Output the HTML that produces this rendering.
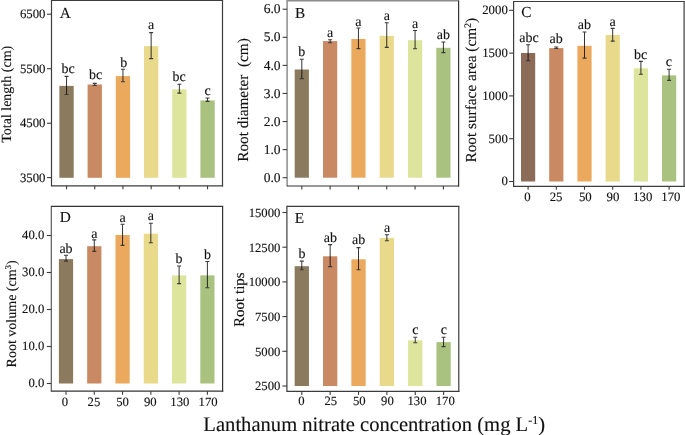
<!DOCTYPE html>
<html><head><meta charset="utf-8"><style>
html,body{margin:0;padding:0;background:#fff;width:685px;height:435px;overflow:hidden}
svg{display:block;will-change:transform}
text{font-family:"Liberation Serif",serif;text-rendering:geometricPrecision;fill:#111;stroke:#111;stroke-width:0.12px}
</style></head><body>
<svg width="685" height="435" viewBox="0 0 685 435">
<rect width="685" height="435" fill="#fff"/>
<rect x="59.4" y="85.9" width="14.3" height="91.9" fill="#8b7a5e"/>
<rect x="87.6" y="84.5" width="14.3" height="93.3" fill="#c98962"/>
<rect x="115.8" y="76.1" width="14.3" height="101.7" fill="#eba95e"/>
<rect x="144" y="46.1" width="14.3" height="131.7" fill="#e9d98b"/>
<rect x="172.2" y="89.3" width="14.3" height="88.5" fill="#dde49c"/>
<rect x="200.4" y="100.4" width="14.3" height="77.4" fill="#a9c27f"/>
<path d="M66.55 76.4V94.5" stroke="#000" stroke-width="0.8" fill="none"/>
<path d="M64.55 76.4H68.55M64.55 94.5H68.55" stroke="#3a3a3a" stroke-width="1.1" fill="none"/>
<path d="M94.75 83.4V85.5" stroke="#000" stroke-width="0.8" fill="none"/>
<path d="M92.75 83.4H96.75M92.75 85.5H96.75" stroke="#3a3a3a" stroke-width="1.1" fill="none"/>
<path d="M122.95 69.2V81.7" stroke="#000" stroke-width="0.8" fill="none"/>
<path d="M120.95 69.2H124.95M120.95 81.7H124.95" stroke="#3a3a3a" stroke-width="1.1" fill="none"/>
<path d="M151.15 32.6V58.6" stroke="#000" stroke-width="0.8" fill="none"/>
<path d="M149.15 32.6H153.15M149.15 58.6H153.15" stroke="#3a3a3a" stroke-width="1.1" fill="none"/>
<path d="M179.35 84.2V93.1" stroke="#000" stroke-width="0.8" fill="none"/>
<path d="M177.35 84.2H181.35M177.35 93.1H181.35" stroke="#3a3a3a" stroke-width="1.1" fill="none"/>
<path d="M207.55 98V101.4" stroke="#000" stroke-width="0.8" fill="none"/>
<path d="M205.55 98H209.55M205.55 101.4H209.55" stroke="#3a3a3a" stroke-width="1.1" fill="none"/>
<text x="68.1" y="72.7" text-anchor="middle" font-size="14">bc</text>
<text x="95.5" y="79.3" text-anchor="middle" font-size="14">bc</text>
<text x="123.8" y="66.6" text-anchor="middle" font-size="14">b</text>
<text x="151" y="29.4" text-anchor="middle" font-size="14">a</text>
<text x="179.2" y="80.5" text-anchor="middle" font-size="14">bc</text>
<text x="207.7" y="95.3" text-anchor="middle" font-size="14">c</text>
<path d="M51.5 -0.1V186.4" stroke="#3c3c3c" stroke-width="1.2"/>
<path d="M51.5 0.5H223.1" stroke="#3c3c3c" stroke-width="1.2"/>
<path d="M222.5 0.5V186.4" stroke="#3c3c3c" stroke-width="1.2"/>
<path d="M51.5 185.8H223.1" stroke="#3c3c3c" stroke-width="1.2"/>
<path d="M47 14.2H51.5" stroke="#3c3c3c" stroke-width="1.1"/>
<text x="45.5" y="18.23" text-anchor="end" font-size="12.8">6500</text>
<path d="M47 68.7H51.5" stroke="#3c3c3c" stroke-width="1.1"/>
<text x="45.5" y="72.73" text-anchor="end" font-size="12.8">5500</text>
<path d="M47 123.2H51.5" stroke="#3c3c3c" stroke-width="1.1"/>
<text x="45.5" y="127.23" text-anchor="end" font-size="12.8">4500</text>
<path d="M47 177.6H51.5" stroke="#3c3c3c" stroke-width="1.1"/>
<text x="45.5" y="181.63" text-anchor="end" font-size="12.8">3500</text>
<path d="M66.55 185.8V189.3" stroke="#3c3c3c" stroke-width="1.1"/>
<path d="M94.75 185.8V189.3" stroke="#3c3c3c" stroke-width="1.1"/>
<path d="M122.95 185.8V189.3" stroke="#3c3c3c" stroke-width="1.1"/>
<path d="M151.15 185.8V189.3" stroke="#3c3c3c" stroke-width="1.1"/>
<path d="M179.35 185.8V189.3" stroke="#3c3c3c" stroke-width="1.1"/>
<path d="M207.55 185.8V189.3" stroke="#3c3c3c" stroke-width="1.1"/>
<text x="59.7" y="17.6" font-size="15.3">A</text>
<text transform="translate(11.3,94.3) rotate(-90)" text-anchor="middle" font-size="14">Total length (cm)</text>
<rect x="294.7" y="69.5" width="14.2" height="108.2" fill="#8b7a5e"/>
<rect x="323.02" y="41.1" width="14.2" height="136.6" fill="#c98962"/>
<rect x="351.34" y="39" width="14.2" height="138.7" fill="#eba95e"/>
<rect x="379.66" y="35.8" width="14.2" height="141.9" fill="#e9d98b"/>
<rect x="407.98" y="40.2" width="14.2" height="137.5" fill="#dde49c"/>
<rect x="436.3" y="47.8" width="14.2" height="129.9" fill="#a9c27f"/>
<path d="M301.8 59.2V78.6" stroke="#000" stroke-width="0.8" fill="none"/>
<path d="M299.8 59.2H303.8M299.8 78.6H303.8" stroke="#3a3a3a" stroke-width="1.1" fill="none"/>
<path d="M330.12 39.8V42.7" stroke="#000" stroke-width="0.8" fill="none"/>
<path d="M328.12 39.8H332.12M328.12 42.7H332.12" stroke="#3a3a3a" stroke-width="1.1" fill="none"/>
<path d="M358.44 28V48.6" stroke="#000" stroke-width="0.8" fill="none"/>
<path d="M356.44 28H360.44M356.44 48.6H360.44" stroke="#3a3a3a" stroke-width="1.1" fill="none"/>
<path d="M386.76 22.7V47.4" stroke="#000" stroke-width="0.8" fill="none"/>
<path d="M384.76 22.7H388.76M384.76 47.4H388.76" stroke="#3a3a3a" stroke-width="1.1" fill="none"/>
<path d="M415.08 30.5V48.8" stroke="#000" stroke-width="0.8" fill="none"/>
<path d="M413.08 30.5H417.08M413.08 48.8H417.08" stroke="#3a3a3a" stroke-width="1.1" fill="none"/>
<path d="M443.4 42V52.6" stroke="#000" stroke-width="0.8" fill="none"/>
<path d="M441.4 42H445.4M441.4 52.6H445.4" stroke="#3a3a3a" stroke-width="1.1" fill="none"/>
<text x="301.8" y="56.3" text-anchor="middle" font-size="14">b</text>
<text x="330.12" y="37" text-anchor="middle" font-size="14">a</text>
<text x="358.44" y="26.2" text-anchor="middle" font-size="14">a</text>
<text x="386.76" y="19.9" text-anchor="middle" font-size="14">a</text>
<text x="415.08" y="28.2" text-anchor="middle" font-size="14">a</text>
<text x="443.4" y="39.2" text-anchor="middle" font-size="14">ab</text>
<path d="M287.1 0.05V186.6" stroke="#8c8c8c" stroke-width="1.5"/>
<path d="M287.1 0.8H459.2" stroke="#8c8c8c" stroke-width="1.5"/>
<path d="M458.6 0.8V186.6" stroke="#333" stroke-width="1.2"/>
<path d="M287.1 186H459.2" stroke="#333" stroke-width="1.2"/>
<path d="M282.6 177.7H287.1" stroke="#3c3c3c" stroke-width="1.1"/>
<text x="280.6" y="181.86" text-anchor="end" font-size="13.5">0.0</text>
<path d="M282.6 149.62H287.1" stroke="#3c3c3c" stroke-width="1.1"/>
<text x="280.6" y="153.78" text-anchor="end" font-size="13.5">1.0</text>
<path d="M282.6 121.54H287.1" stroke="#3c3c3c" stroke-width="1.1"/>
<text x="280.6" y="125.7" text-anchor="end" font-size="13.5">2.0</text>
<path d="M282.6 93.46H287.1" stroke="#3c3c3c" stroke-width="1.1"/>
<text x="280.6" y="97.62" text-anchor="end" font-size="13.5">3.0</text>
<path d="M282.6 65.38H287.1" stroke="#3c3c3c" stroke-width="1.1"/>
<text x="280.6" y="69.54" text-anchor="end" font-size="13.5">4.0</text>
<path d="M282.6 37.3H287.1" stroke="#3c3c3c" stroke-width="1.1"/>
<text x="280.6" y="41.46" text-anchor="end" font-size="13.5">5.0</text>
<path d="M282.6 9.22H287.1" stroke="#3c3c3c" stroke-width="1.1"/>
<text x="280.6" y="13.38" text-anchor="end" font-size="13.5">6.0</text>
<path d="M301.8 186V189.5" stroke="#3c3c3c" stroke-width="1.1"/>
<path d="M330.12 186V189.5" stroke="#3c3c3c" stroke-width="1.1"/>
<path d="M358.44 186V189.5" stroke="#3c3c3c" stroke-width="1.1"/>
<path d="M386.76 186V189.5" stroke="#3c3c3c" stroke-width="1.1"/>
<path d="M415.08 186V189.5" stroke="#3c3c3c" stroke-width="1.1"/>
<path d="M443.4 186V189.5" stroke="#3c3c3c" stroke-width="1.1"/>
<text x="294.9" y="17.7" font-size="15.3">B</text>
<text transform="translate(248.3,100) rotate(-90)" text-anchor="middle" font-size="15.3">Root diameter  (cm)</text>
<rect x="521" y="53" width="14.2" height="128.5" fill="#8c6b58"/>
<rect x="549.2" y="48.1" width="14.2" height="133.4" fill="#c98962"/>
<rect x="577.4" y="45.8" width="14.2" height="135.7" fill="#eba95e"/>
<rect x="605.6" y="35" width="14.2" height="146.5" fill="#e9d98b"/>
<rect x="633.8" y="68.3" width="14.2" height="113.2" fill="#dde49c"/>
<rect x="662" y="75.4" width="14.2" height="106.1" fill="#a9c27f"/>
<path d="M528.1 44.7V60.6" stroke="#000" stroke-width="0.8" fill="none"/>
<path d="M526.1 44.7H530.1M526.1 60.6H530.1" stroke="#3a3a3a" stroke-width="1.1" fill="none"/>
<path d="M556.3 47V48.5" stroke="#000" stroke-width="0.8" fill="none"/>
<path d="M554.3 47H558.3M554.3 48.5H558.3" stroke="#3a3a3a" stroke-width="1.1" fill="none"/>
<path d="M584.5 32V58.1" stroke="#000" stroke-width="0.8" fill="none"/>
<path d="M582.5 32H586.5M582.5 58.1H586.5" stroke="#3a3a3a" stroke-width="1.1" fill="none"/>
<path d="M612.7 28.4V41.1" stroke="#000" stroke-width="0.8" fill="none"/>
<path d="M610.7 28.4H614.7M610.7 41.1H614.7" stroke="#3a3a3a" stroke-width="1.1" fill="none"/>
<path d="M640.9 61.4V74.2" stroke="#000" stroke-width="0.8" fill="none"/>
<path d="M638.9 61.4H642.9M638.9 74.2H642.9" stroke="#3a3a3a" stroke-width="1.1" fill="none"/>
<path d="M669.1 69.2V80.4" stroke="#000" stroke-width="0.8" fill="none"/>
<path d="M667.1 69.2H671.1M667.1 80.4H671.1" stroke="#3a3a3a" stroke-width="1.1" fill="none"/>
<text x="529" y="42.2" text-anchor="middle" font-size="14">abc</text>
<text x="556.1" y="43.3" text-anchor="middle" font-size="14">ab</text>
<text x="584.3" y="29.3" text-anchor="middle" font-size="14">ab</text>
<text x="612.5" y="26" text-anchor="middle" font-size="14">a</text>
<text x="640.7" y="58.6" text-anchor="middle" font-size="14">bc</text>
<text x="668.9" y="66.3" text-anchor="middle" font-size="14">c</text>
<path d="M513.6 0.9V186.9" stroke="#3c3c3c" stroke-width="1.2"/>
<path d="M513.6 1.5H684.7" stroke="#3c3c3c" stroke-width="1.2"/>
<path d="M684.1 1.5V186.9" stroke="#3c3c3c" stroke-width="1.2"/>
<path d="M513.6 186.3H684.7" stroke="#3c3c3c" stroke-width="1.2"/>
<path d="M509.1 181.5H513.6" stroke="#3c3c3c" stroke-width="1.1"/>
<text x="507.8" y="185.43" text-anchor="end" font-size="12.8">0</text>
<path d="M509.1 138.7H513.6" stroke="#3c3c3c" stroke-width="1.1"/>
<text x="507.8" y="142.63" text-anchor="end" font-size="12.8">500</text>
<path d="M509.1 95.9H513.6" stroke="#3c3c3c" stroke-width="1.1"/>
<text x="507.8" y="99.83" text-anchor="end" font-size="12.8">1000</text>
<path d="M509.1 53.1H513.6" stroke="#3c3c3c" stroke-width="1.1"/>
<text x="507.8" y="57.03" text-anchor="end" font-size="12.8">1500</text>
<path d="M509.1 10.3H513.6" stroke="#3c3c3c" stroke-width="1.1"/>
<text x="507.8" y="14.23" text-anchor="end" font-size="12.8">2000</text>
<path d="M528.1 186.3V189.8" stroke="#3c3c3c" stroke-width="1.1"/>
<text x="527.4" y="200.8" text-anchor="middle" font-size="12.8">0</text>
<path d="M556.3 186.3V189.8" stroke="#3c3c3c" stroke-width="1.1"/>
<text x="556.1" y="200.8" text-anchor="middle" font-size="12.8">25</text>
<path d="M584.5 186.3V189.8" stroke="#3c3c3c" stroke-width="1.1"/>
<text x="585.3" y="200.8" text-anchor="middle" font-size="12.8">50</text>
<path d="M612.7 186.3V189.8" stroke="#3c3c3c" stroke-width="1.1"/>
<text x="613" y="200.8" text-anchor="middle" font-size="12.8">90</text>
<path d="M640.9 186.3V189.8" stroke="#3c3c3c" stroke-width="1.1"/>
<text x="642.7" y="200.8" text-anchor="middle" font-size="12.8">130</text>
<path d="M669.1 186.3V189.8" stroke="#3c3c3c" stroke-width="1.1"/>
<text x="670.9" y="200.8" text-anchor="middle" font-size="12.8">170</text>
<text x="521.3" y="17.1" font-size="15.3">C</text>
<text transform="translate(476.3,90.2) rotate(-90)" text-anchor="middle" font-size="15.3">Root surface area (cm<tspan dy="-5.5" font-size="10">2</tspan><tspan dy="5.5">)</tspan></text>
<rect x="58.9" y="259.1" width="14.2" height="124.4" fill="#8b7a5e"/>
<rect x="87.18" y="246.2" width="14.2" height="137.3" fill="#c98962"/>
<rect x="115.46" y="235" width="14.2" height="148.5" fill="#eba95e"/>
<rect x="143.74" y="233.7" width="14.2" height="149.8" fill="#e9d98b"/>
<rect x="172.02" y="275.4" width="14.2" height="108.1" fill="#dde49c"/>
<rect x="200.3" y="275.4" width="14.2" height="108.1" fill="#a9c27f"/>
<path d="M66 255.3V261.1" stroke="#000" stroke-width="0.8" fill="none"/>
<path d="M64 255.3H68M64 261.1H68" stroke="#3a3a3a" stroke-width="1.1" fill="none"/>
<path d="M94.28 239.9V251.4" stroke="#000" stroke-width="0.8" fill="none"/>
<path d="M92.28 239.9H96.28M92.28 251.4H96.28" stroke="#3a3a3a" stroke-width="1.1" fill="none"/>
<path d="M122.56 224.3V245.4" stroke="#000" stroke-width="0.8" fill="none"/>
<path d="M120.56 224.3H124.56M120.56 245.4H124.56" stroke="#3a3a3a" stroke-width="1.1" fill="none"/>
<path d="M150.84 223.3V242.7" stroke="#000" stroke-width="0.8" fill="none"/>
<path d="M148.84 223.3H152.84M148.84 242.7H152.84" stroke="#3a3a3a" stroke-width="1.1" fill="none"/>
<path d="M179.12 266V283.6" stroke="#000" stroke-width="0.8" fill="none"/>
<path d="M177.12 266H181.12M177.12 283.6H181.12" stroke="#3a3a3a" stroke-width="1.1" fill="none"/>
<path d="M207.4 261.5V287.7" stroke="#000" stroke-width="0.8" fill="none"/>
<path d="M205.4 261.5H209.4M205.4 287.7H209.4" stroke="#3a3a3a" stroke-width="1.1" fill="none"/>
<text x="66" y="252.8" text-anchor="middle" font-size="14">ab</text>
<text x="94.28" y="237.8" text-anchor="middle" font-size="14">a</text>
<text x="122.56" y="221.7" text-anchor="middle" font-size="14">a</text>
<text x="150.84" y="220.4" text-anchor="middle" font-size="14">a</text>
<text x="179.12" y="263.2" text-anchor="middle" font-size="14">b</text>
<text x="207.4" y="259.1" text-anchor="middle" font-size="14">b</text>
<path d="M51.3 205.8V391.8" stroke="#5a5a5a" stroke-width="1.2"/>
<path d="M51.3 206.4H223.2" stroke="#333" stroke-width="1.2"/>
<path d="M222.6 206.4V391.8" stroke="#333" stroke-width="1.2"/>
<path d="M51.3 391.2H223.2" stroke="#333" stroke-width="1.2"/>
<path d="M46.8 383.5H51.3" stroke="#3c3c3c" stroke-width="1.1"/>
<text x="44.3" y="387.29" text-anchor="end" font-size="12.7">0.0</text>
<path d="M46.8 346.5H51.3" stroke="#3c3c3c" stroke-width="1.1"/>
<text x="44.3" y="350.29" text-anchor="end" font-size="12.7">10.0</text>
<path d="M46.8 309.5H51.3" stroke="#3c3c3c" stroke-width="1.1"/>
<text x="44.3" y="313.29" text-anchor="end" font-size="12.7">20.0</text>
<path d="M46.8 272.5H51.3" stroke="#3c3c3c" stroke-width="1.1"/>
<text x="44.3" y="276.29" text-anchor="end" font-size="12.7">30.0</text>
<path d="M46.8 235.5H51.3" stroke="#3c3c3c" stroke-width="1.1"/>
<text x="44.3" y="239.29" text-anchor="end" font-size="12.7">40.0</text>
<path d="M66 391.2V394.7" stroke="#3c3c3c" stroke-width="1.1"/>
<text x="64.8" y="405.7" text-anchor="middle" font-size="12.7">0</text>
<path d="M94.28 391.2V394.7" stroke="#3c3c3c" stroke-width="1.1"/>
<text x="93.88" y="405.7" text-anchor="middle" font-size="12.7">25</text>
<path d="M122.56 391.2V394.7" stroke="#3c3c3c" stroke-width="1.1"/>
<text x="122.56" y="405.7" text-anchor="middle" font-size="12.7">50</text>
<path d="M150.84 391.2V394.7" stroke="#3c3c3c" stroke-width="1.1"/>
<text x="150.24" y="405.7" text-anchor="middle" font-size="12.7">90</text>
<path d="M179.12 391.2V394.7" stroke="#3c3c3c" stroke-width="1.1"/>
<text x="179.82" y="405.7" text-anchor="middle" font-size="12.7">130</text>
<path d="M207.4 391.2V394.7" stroke="#3c3c3c" stroke-width="1.1"/>
<text x="208.1" y="405.7" text-anchor="middle" font-size="12.7">170</text>
<text x="59.7" y="221.6" font-size="15.3">D</text>
<text transform="translate(15.8,313.8) rotate(-90)" text-anchor="middle" font-size="14">Root volume (cm<tspan dy="-5" font-size="9">3</tspan><tspan dy="5">)</tspan></text>
<rect x="294.65" y="266.2" width="14.3" height="119.8" fill="#8b7a5e"/>
<rect x="323.01" y="256.3" width="14.3" height="129.7" fill="#c98962"/>
<rect x="351.37" y="259.3" width="14.3" height="126.7" fill="#eba95e"/>
<rect x="379.73" y="238" width="14.3" height="148" fill="#e9d98b"/>
<rect x="408.09" y="340.3" width="14.3" height="45.7" fill="#dde49c"/>
<rect x="436.45" y="342.1" width="14.3" height="43.9" fill="#a9c27f"/>
<path d="M301.8 261.1V269.7" stroke="#000" stroke-width="0.8" fill="none"/>
<path d="M299.8 261.1H303.8M299.8 269.7H303.8" stroke="#3a3a3a" stroke-width="1.1" fill="none"/>
<path d="M330.16 244.6V266.6" stroke="#000" stroke-width="0.8" fill="none"/>
<path d="M328.16 244.6H332.16M328.16 266.6H332.16" stroke="#3a3a3a" stroke-width="1.1" fill="none"/>
<path d="M358.52 247.6V269.7" stroke="#000" stroke-width="0.8" fill="none"/>
<path d="M356.52 247.6H360.52M356.52 269.7H360.52" stroke="#3a3a3a" stroke-width="1.1" fill="none"/>
<path d="M386.88 234.8V240.7" stroke="#000" stroke-width="0.8" fill="none"/>
<path d="M384.88 234.8H388.88M384.88 240.7H388.88" stroke="#3a3a3a" stroke-width="1.1" fill="none"/>
<path d="M415.24 337.3V342.7" stroke="#000" stroke-width="0.8" fill="none"/>
<path d="M413.24 337.3H417.24M413.24 342.7H417.24" stroke="#3a3a3a" stroke-width="1.1" fill="none"/>
<path d="M443.6 337.3V346.6" stroke="#000" stroke-width="0.8" fill="none"/>
<path d="M441.6 337.3H445.6M441.6 346.6H445.6" stroke="#3a3a3a" stroke-width="1.1" fill="none"/>
<text x="302" y="258.3" text-anchor="middle" font-size="14">b</text>
<text x="330.36" y="241.8" text-anchor="middle" font-size="14">ab</text>
<text x="358.72" y="244.1" text-anchor="middle" font-size="14">ab</text>
<text x="387.08" y="231.9" text-anchor="middle" font-size="14">a</text>
<text x="415.39" y="334.3" text-anchor="middle" font-size="14">c</text>
<text x="443.75" y="334.3" text-anchor="middle" font-size="14">c</text>
<path d="M286.9 205.8V392" stroke="#3c3c3c" stroke-width="1.2"/>
<path d="M286.9 206.4H459.4" stroke="#3c3c3c" stroke-width="1.2"/>
<path d="M458.8 206.4V392" stroke="#3c3c3c" stroke-width="1.2"/>
<path d="M286.9 391.4H459.4" stroke="#3c3c3c" stroke-width="1.2"/>
<path d="M282.4 386H286.9" stroke="#3c3c3c" stroke-width="1.1"/>
<text x="280.4" y="390.49" text-anchor="end" font-size="12.7">2500</text>
<path d="M282.4 351.3H286.9" stroke="#3c3c3c" stroke-width="1.1"/>
<text x="280.4" y="355.79" text-anchor="end" font-size="12.7">5000</text>
<path d="M282.4 316.6H286.9" stroke="#3c3c3c" stroke-width="1.1"/>
<text x="280.4" y="321.09" text-anchor="end" font-size="12.7">7500</text>
<path d="M282.4 281.9H286.9" stroke="#3c3c3c" stroke-width="1.1"/>
<text x="280.4" y="286.39" text-anchor="end" font-size="12.7">10000</text>
<path d="M282.4 247.2H286.9" stroke="#3c3c3c" stroke-width="1.1"/>
<text x="280.4" y="251.69" text-anchor="end" font-size="12.7">12500</text>
<path d="M282.4 212.5H286.9" stroke="#3c3c3c" stroke-width="1.1"/>
<text x="280.4" y="216.99" text-anchor="end" font-size="12.7">15000</text>
<path d="M301.8 391.4V394.9" stroke="#3c3c3c" stroke-width="1.1"/>
<text x="301.4" y="405.3" text-anchor="middle" font-size="12.7">0</text>
<path d="M330.16 391.4V394.9" stroke="#3c3c3c" stroke-width="1.1"/>
<text x="330.76" y="405.3" text-anchor="middle" font-size="12.7">25</text>
<path d="M358.52 391.4V394.9" stroke="#3c3c3c" stroke-width="1.1"/>
<text x="359.32" y="405.3" text-anchor="middle" font-size="12.7">50</text>
<path d="M386.88 391.4V394.9" stroke="#3c3c3c" stroke-width="1.1"/>
<text x="387.38" y="405.3" text-anchor="middle" font-size="12.7">90</text>
<path d="M415.24 391.4V394.9" stroke="#3c3c3c" stroke-width="1.1"/>
<text x="417.04" y="405.3" text-anchor="middle" font-size="12.7">130</text>
<path d="M443.6 391.4V394.9" stroke="#3c3c3c" stroke-width="1.1"/>
<text x="445.25" y="405.3" text-anchor="middle" font-size="12.7">170</text>
<text x="294.8" y="223.3" font-size="15.3">E</text>
<text transform="translate(243.5,299.6) rotate(-90)" text-anchor="middle" font-size="15">Root tips</text>
<text x="374.2" y="430.5" text-anchor="middle" font-size="20.6">Lanthanum nitrate concentration (mg L<tspan dy="-7" font-size="12">-1</tspan><tspan dy="7">)</tspan></text>
</svg>
</body></html>
